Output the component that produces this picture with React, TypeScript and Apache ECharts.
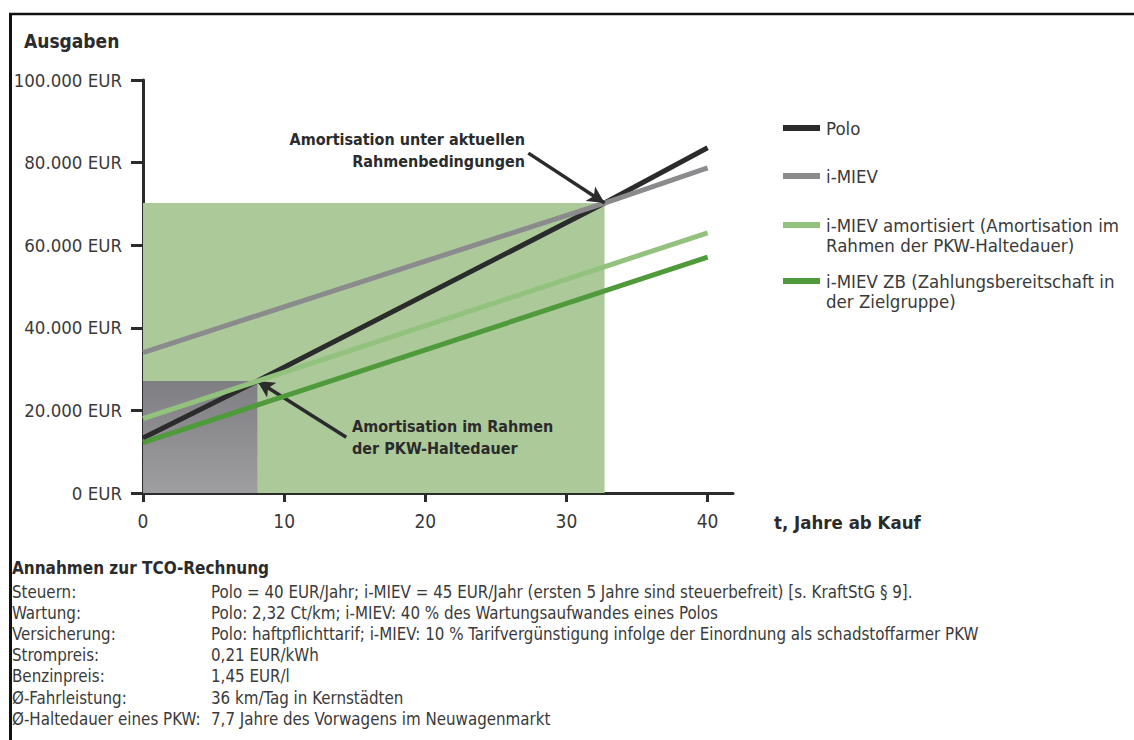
import { useEffect, useRef } from 'react';
import * as echarts from 'echarts';

const FONT = '"DejaVu Sans Condensed", "Liberation Sans Narrow", sans-serif';
const TEXT = '#3a3a3a';
const INK = '#2b2b2b';

// Cumulative spending [year, EUR]
const seriesNames = ['Polo', 'i-MIEV', 'i-MIEV amortisiert', 'i-MIEV ZB'];
const legendLabels = [
  'Polo',
  'i-MIEV',
  'i-MIEV amortisiert (Amortisation im\nRahmen der PKW-Haltedauer)',
  'i-MIEV ZB (Zahlungsbereitschaft in\nder Zielgruppe)',
];
const seriesColors = ['#2b2b2b', '#8b8b8e', '#93c27e', '#4f9a3b'];

const poloPoints = [[0, 13300], [8.1, 27100], [32.7, 70200], [40, 83600]];
const imievPoints = [[0, 34000], [32.7, 70200], [40, 78700]];
const amortPoints = [[0, 18000], [8.1, 27100], [40, 63000]];
const zbPoints = [[0, 12200], [40, 57100]];

// Break-even points
const breakEvenCurrent = [32.7, 70200];
const breakEvenHolding = [8.1, 27100];
// Arrow tails (data space)
const arrowTailCurrent = [27.3, 82300];
const arrowTailHolding = [14.4, 13500];

const xTicks = [0, 10, 20, 30, 40];
const yMax = 100000;
const yStep = 20000;

const noteLabels = [
  'Steuern:',
  'Wartung:',
  'Versicherung:',
  'Strompreis:',
  'Benzinpreis:',
  'Ø-Fahrleistung:',
  'Ø-Haltedauer eines PKW:',
];
const noteValues = [
  'Polo = 40 EUR/Jahr; i-MIEV = 45 EUR/Jahr (ersten 5 Jahre sind steuerbefreit) [s. KraftStG § 9].',
  'Polo: 2,32 Ct/km; i-MIEV: 40 % des Wartungsaufwandes eines Polos',
  'Polo: haftpflichttarif; i-MIEV: 10 % Tarifvergünstigung infolge der Einordnung als schadstoffarmer PKW',
  '0,21 EUR/kWh',
  '1,45 EUR/l',
  '36 km/Tag in Kernstädten',
  '7,7 Jahre des Vorwagens im Neuwagenmarkt',
];

const formatEur = (v: number) => (v === 0 ? '0 EUR' : `${v / 1000}.000 EUR`);

export default function App() {
  const ref = useRef<HTMLDivElement>(null);

  useEffect(() => {
    if (!ref.current) return;
    const chart = echarts.init(ref.current, null, { renderer: 'svg' });

    const dataSets = [poloPoints, imievPoints, amortPoints, zbPoints];

    const series: any[] = dataSets.map((pts, i) => ({
      type: 'line',
      name: seriesNames[i],
      data: pts,
      showSymbol: false,
      symbol: 'none',
      silent: true,
      lineStyle: { color: seriesColors[i], width: 5, cap: 'butt' },
      itemStyle: { color: seriesColors[i] },
      z: 3 + i,
    }));

    series[0].markArea = {
      silent: true,
      label: { show: false },
      itemStyle: { opacity: 1 },
      data: [
        [
          { coord: [0, 0], itemStyle: { color: '#abc999', opacity: 1 } },
          { coord: breakEvenCurrent },
        ],
        [
          {
            coord: [0, 0],
            itemStyle: {
              opacity: 1,
              color: {
                type: 'linear', x: 0, y: 0, x2: 0, y2: 1,
                colorStops: [
                  { offset: 0, color: '#7f7f83' },
                  { offset: 1, color: '#9e9ea1' },
                ],
              },
            },
          },
          { coord: breakEvenHolding },
        ],
      ],
    };

    series[3].markLine = {
      silent: true,
      symbol: ['none', 'arrow'],
      symbolSize: [13, 17],
      label: { show: false },
      lineStyle: { color: INK, width: 3.5, type: 'solid' },
      emphasis: { disabled: true },
      data: [
        [{ coord: arrowTailCurrent }, { coord: breakEvenCurrent }],
        [{ coord: arrowTailHolding }, { coord: breakEvenHolding }],
      ],
    };

    const legendY = [128, 176, 225, 281];
    const legendGraphics: any[] = [];
    legendLabels.forEach((label, i) => {
      legendGraphics.push({
        type: 'rect',
        z: 100,
        shape: { x: 783, y: legendY[i] - 3, width: 37, height: 6 },
        style: { fill: seriesColors[i] },
        silent: true,
      });
      legendGraphics.push({
        type: 'text',
        z: 100,
        x: 826,
        y: legendY[i] - 10,
        style: {
          text: label,
          font: `18.5px ${FONT}`,
          fill: TEXT,
          lineHeight: 20,
          verticalAlign: 'top',
          align: 'left',
        },
        silent: true,
      });
    });

    chart.setOption({
      animation: false,
      backgroundColor: '#ffffff',
      title: {
        text: 'Ausgaben',
        left: 19,
        top: 26,
        textStyle: { fontFamily: FONT, fontWeight: 'bold', fontSize: 19, color: INK },
      },
      grid: { left: 143, top: 80, right: 401, bottom: 247, containLabel: false },
      xAxis: {
        type: 'value',
        min: 0,
        max: 41.8,
        interval: 10,
        splitLine: { show: false },
        axisLine: { lineStyle: { color: INK, width: 3 } },
        axisTick: { show: true, length: 9, lineStyle: { color: INK, width: 3 }, customValues: xTicks },
        axisLabel: {
          customValues: xTicks,
          color: TEXT,
          fontFamily: FONT,
          fontSize: 19,
          margin: 18,
          formatter: (v: number) => (xTicks.includes(v) ? String(v) : ''),
        },
        name: 't, Jahre ab Kauf',
        nameLocation: 'end',
        nameGap: 41,
        nameTextStyle: {
          fontFamily: FONT,
          fontWeight: 'bold',
          fontSize: 18.5,
          color: INK,
          verticalAlign: 'top',
          align: 'left',
          padding: [20, 0, 0, 0],
        },
      },
      yAxis: {
        type: 'value',
        min: 0,
        max: yMax,
        interval: yStep,
        splitLine: { show: false },
        axisLine: { show: true, lineStyle: { color: INK, width: 3 } },
        axisTick: { show: true, length: 12, lineStyle: { color: INK, width: 3 } },
        axisLabel: {
          color: TEXT,
          fontFamily: FONT,
          fontSize: 18.5,
          margin: 21,
          formatter: formatEur,
        },
      },
      series,
      graphic: [
        // frame
        { type: 'line', z: 100, shape: { x1: 9, y1: 14, x2: 1134, y2: 14 }, style: { stroke: '#111', lineWidth: 2.5 }, silent: true },
        { type: 'line', z: 100, shape: { x1: 10.5, y1: 13, x2: 10.5, y2: 740 }, style: { stroke: '#111', lineWidth: 3 }, silent: true },
        // annotations
        {
          type: 'text', z: 100, x: 525, y: 128,
          style: {
            text: 'Amortisation unter aktuellen\nRahmenbedingungen',
            font: `bold 16px ${FONT}`, fill: INK, align: 'right', verticalAlign: 'top', lineHeight: 22,
          },
          silent: true,
        },
        {
          type: 'text', z: 100, x: 352, y: 415,
          style: {
            text: 'Amortisation im Rahmen\nder PKW-Haltedauer',
            font: `bold 16px ${FONT}`, fill: INK, align: 'left', verticalAlign: 'top', lineHeight: 22,
          },
          silent: true,
        },
        ...legendGraphics,
        // assumptions
        {
          type: 'text', z: 100, x: 12, y: 559,
          style: { text: 'Annahmen zur TCO-Rechnung', font: `bold 17px ${FONT}`, fill: INK, verticalAlign: 'top' },
          silent: true,
        },
        {
          type: 'text', z: 100, x: 12, y: 581,
          style: { text: noteLabels.join('\n'), font: `16.8px ${FONT}`, fill: TEXT, verticalAlign: 'top', lineHeight: 21.2 },
          silent: true,
        },
        {
          type: 'text', z: 100, x: 211, y: 581,
          style: { text: noteValues.join('\n'), font: `16.8px ${FONT}`, fill: TEXT, verticalAlign: 'top', lineHeight: 21.2 },
          silent: true,
        },
      ],
    });

    return () => chart.dispose();
  }, []);

  return (
    <div
      ref={ref}
      style={{ position: 'fixed', left: 0, top: 0, width: 1134, height: 740, background: '#fff' }}
    />
  );
}
